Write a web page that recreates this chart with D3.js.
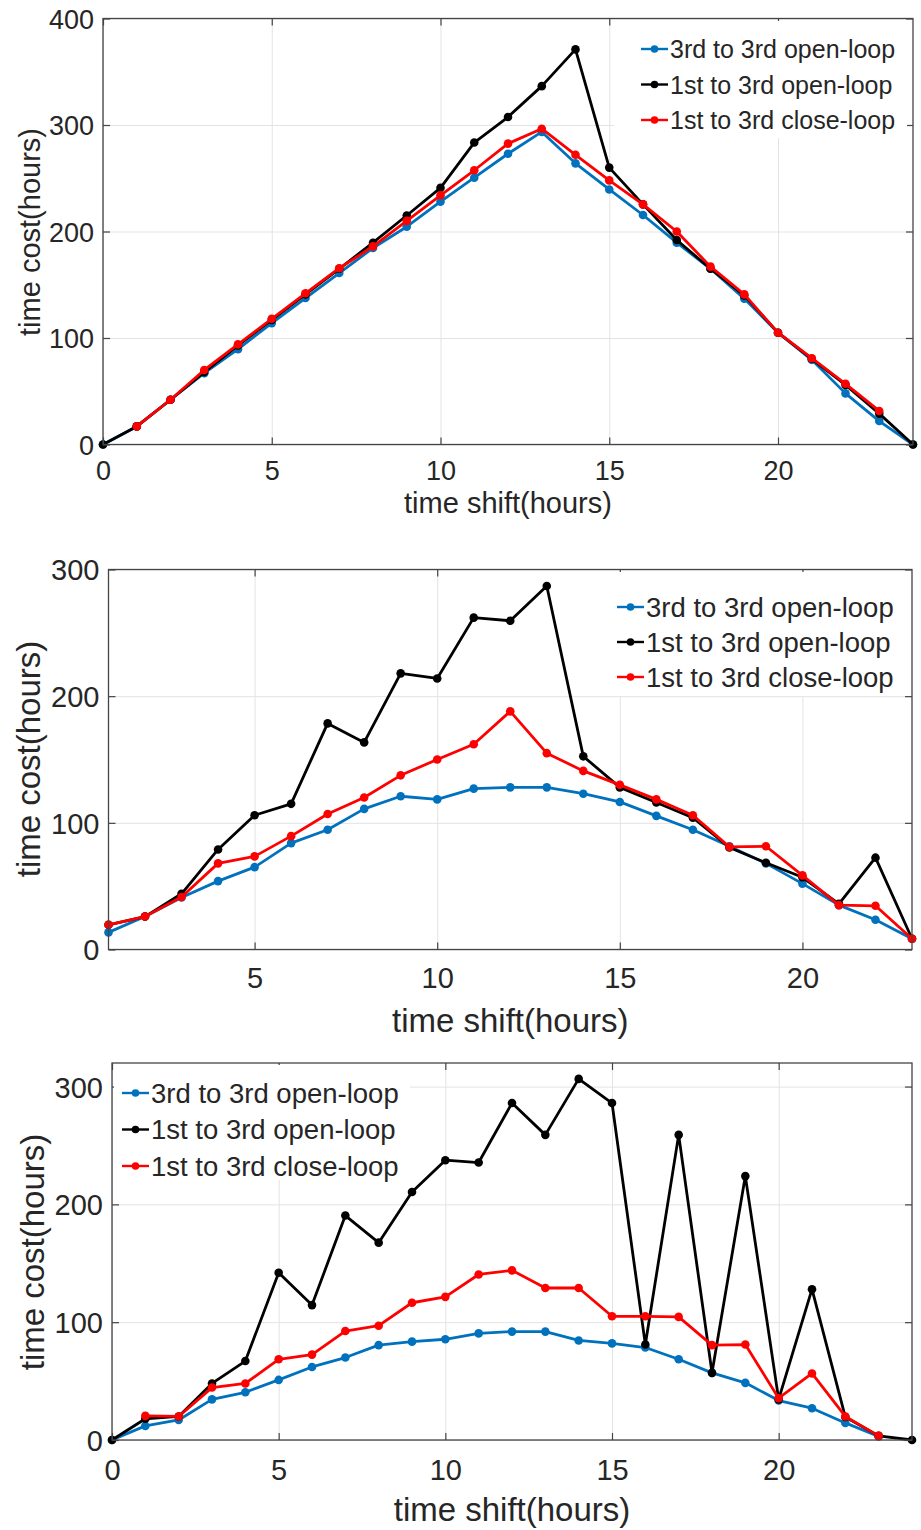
<html>
<head>
  <title>time cost vs time shift</title>
  <script type="text/javascript" src="https://cdn.jsdelivr.net/npm/d3@7"></script>
  <style type="text/css">
    body { margin: 0; background: #fff; }
    text { font-family: "Liberation Sans", Arial, sans-serif; fill: #262626; }
    .grid line { stroke: #e3e3e3; stroke-width: 1; }
    .grid path { display: none; }
    .ax path { display: none; }
    .ax line { stroke: #444; stroke-width: 1.2; }
    .series { fill: none; stroke-width: 2.8; stroke-linejoin: round; }
  </style>
</head>
<body>
<script>
// ---- data ----
const seriesNames = ["3rd to 3rd open-loop", "1st to 3rd open-loop", "1st to 3rd close-loop"];
const seriesColors = ["#0072bd", "#000000", "#ff0000"];

// top panel
const hours1 = [0,1,2,3,4,5,6,7,8,9,10,11,12,13,14,15,16,17,18,19,20,21,22,23,24];
const p1Blue  = [0,17,42,67,89.5,114,137.5,161,184.5,204.5,228,250.5,273,293.5,264,239.5,215.5,189.5,165,137,105,79.5,48,22,0];
const p1Black = [0,17,42,68,93,117,141,165,189.5,215,241,283.5,307.5,336.5,371,260,225.5,192,165,140,105,80.5,56,29,0];
const p1Red   = [null,17,42,70,94,118,142,165.5,186,210,234,257.5,282.5,296.5,272,248,225.5,200,167,141,105,81,57,31.5,null];
const xTicks1 = [0,5,10,15,20];
const yTicks1 = [0,100,200,300,400];

// middle panel
const hours2 = [1,2,3,4,5,6,7,8,9,10,11,12,13,14,15,16,17,18,19,20,21,22,23];
const p2Blue  = [13.5,26,41,54,65,84,94.5,111,121,118.5,127,128,128,123,116.5,105.5,94.5,81.5,68,52,35,23.5,8.5];
const p2Black = [19.5,26,44,79,106,115,178.5,163.5,218,214,262,259.5,287,152.5,128,116,104,80.5,68.5,57,36,72.5,8.5];
const p2Red   = [19.5,26,41.5,68,73.5,89.5,107,120,137.5,150,162,188,155,141,130,118.5,106,81,81.5,58.5,35,34.5,8.5];
const xTicks2 = [5,10,15,20];
const yTicks2 = [0,100,200,300];

// bottom panel
const hours3 = [0,1,2,3,4,5,6,7,8,9,10,11,12,13,14,15,16,17,18,19,20,21,22,23,24];
const p3Blue  = [0,12,17,34.5,40.5,51,62,70,80.5,83.5,85.5,90.5,92,92,84.5,82,78.5,68.5,57,48.5,33.5,27,14.5,3,null];
const p3Black = [0,18,20,48,67,142,114.5,190.5,167.5,210.5,237.5,235.5,286,259,306.5,286,81,259,57,224,34.5,128,19.5,3.5,0];
const p3Red   = [null,20.5,20,44.5,48,68.5,72.5,92.5,97,116.5,121.5,140.5,144,129,129,105,105,104.5,80.5,81,35.5,56.5,20,3.5,null];
const xTicks3 = [0,5,10,15,20];
const yTicks3 = [0,100,200,300];

// ---- layout ----
const w = 921;
const h = 1530;

const panels = [
  { hours: hours1, values: [p1Blue, p1Black, p1Red], xTicks: xTicks1, yTicks: yTicks1,
    xDomain: [0, 24], yDomain: [0, 400],
    left: 103, right: 913, top: 18.5, bottom: 444.5,
    tickFont: 27, labelFont: 29, legendFont: 25,
    xLabelY: 513, yLabelX: 30, yLabelCY: 232, tickLabelY: 480,
    legend: { x: 641, y: 49, step: 35.5, box: [614, 21, 293, 117] } },
  { hours: hours2, values: [p2Blue, p2Black, p2Red], xTicks: xTicks2, yTicks: yTicks2,
    xDomain: [1, 23], yDomain: [0, 300],
    left: 108.5, right: 912, top: 569.5, bottom: 949.5,
    tickFont: 29, labelFont: 33, legendFont: 27.5,
    xLabelY: 1032, yLabelX: 28, yLabelCY: 759, tickLabelY: 988,
    legend: { x: 617, y: 607, step: 35, box: [600, 572, 307, 124] } },
  { hours: hours3, values: [p3Blue, p3Black, p3Red], xTicks: xTicks3, yTicks: yTicks3,
    xDomain: [0, 24], yDomain: [0, 320],
    left: 112, right: 912, top: 1063, bottom: 1440,
    tickFont: 29, labelFont: 33, legendFont: 27.5,
    xLabelY: 1521, yLabelX: 32, yLabelCY: 1252, tickLabelY: 1480,
    legend: { x: 122, y: 1093, step: 36.5, box: [114, 1065, 296, 115] } }
];

const svg = d3.select("body")
  .append("svg")
  .attr("width", w)
  .attr("height", h);

panels.forEach(function(p) {
  const pw = p.right - p.left;
  const ph = p.bottom - p.top;

  const xScale = d3.scaleLinear().domain(p.xDomain).range([p.left, p.right]);
  const yScale = d3.scaleLinear().domain(p.yDomain).range([p.bottom, p.top]);

  // grid
  svg.append("g")
    .attr("class", "grid")
    .attr("transform", "translate(0," + p.bottom + ")")
    .call(d3.axisBottom(xScale).tickValues(p.xTicks).tickSize(-ph).tickFormat(""));
  svg.append("g")
    .attr("class", "grid")
    .attr("transform", "translate(" + p.left + ",0)")
    .call(d3.axisLeft(yScale).tickValues(p.yTicks).tickSize(-pw).tickFormat(""));

  // lines, blue first, red on top
  p.values.forEach(function(vals, i) {
    const pts = p.hours.map(function(x, j) { return { x: x, y: vals[j] }; })
      .filter(function(d) { return d.y !== null; });

    const line = d3.line()
      .x(function(d) { return xScale(d.x); })
      .y(function(d) { return yScale(d.y); });

    svg.append("path")
      .datum(pts)
      .attr("class", "series")
      .attr("stroke", seriesColors[i])
      .attr("d", line);

    svg.append("g").selectAll("circle")
      .data(pts)
      .enter()
      .append("circle")
      .attr("cx", function(d) { return xScale(d.x); })
      .attr("cy", function(d) { return yScale(d.y); })
      .attr("r", 4.3)
      .attr("fill", seriesColors[i]);
  });

  // axes with inward ticks on all four sides
  const xAxis = svg.append("g")
    .attr("class", "ax")
    .attr("transform", "translate(0," + p.bottom + ")")
    .call(d3.axisBottom(xScale).tickValues(p.xTicks).tickSize(-7).tickPadding(0));
  xAxis.selectAll("text")
    .attr("y", p.tickLabelY - p.bottom)
    .attr("dy", 0)
    .style("font-size", p.tickFont + "px");

  svg.append("g")
    .attr("class", "ax")
    .attr("transform", "translate(0," + p.top + ")")
    .call(d3.axisTop(xScale).tickValues(p.xTicks).tickSize(-7).tickFormat(""));

  const yAxis = svg.append("g")
    .attr("class", "ax")
    .attr("transform", "translate(" + p.left + ",0)")
    .call(d3.axisLeft(yScale).tickValues(p.yTicks).tickSize(-7).tickPadding(0));
  yAxis.selectAll("text")
    .attr("x", -9)
    .attr("dy", "0.36em")
    .style("font-size", p.tickFont + "px");

  svg.append("g")
    .attr("class", "ax")
    .attr("transform", "translate(" + p.right + ",0)")
    .call(d3.axisRight(yScale).tickValues(p.yTicks).tickSize(-7).tickFormat(""));

  // box
  svg.append("rect")
    .attr("x", p.left)
    .attr("y", p.top)
    .attr("width", pw)
    .attr("height", ph)
    .attr("fill", "none")
    .attr("stroke", "#444")
    .attr("stroke-width", 1.3);

  // axis labels
  svg.append("text")
    .attr("x", (p.left + p.right) / 2)
    .attr("y", p.xLabelY)
    .attr("text-anchor", "middle")
    .style("font-size", p.labelFont + "px")
    .text("time shift(hours)");

  svg.append("text")
    .attr("transform", "translate(" + p.yLabelX + "," + p.yLabelCY + ") rotate(-90)")
    .attr("dy", "0.35em")
    .attr("text-anchor", "middle")
    .style("font-size", p.labelFont + "px")
    .text("time cost(hours)");

  // legend
  const lg = p.legend;
  svg.append("rect")
    .attr("x", lg.box[0])
    .attr("y", lg.box[1])
    .attr("width", lg.box[2])
    .attr("height", lg.box[3])
    .attr("fill", "#fff");

  seriesNames.forEach(function(name, i) {
    const yy = lg.y + i * lg.step;
    svg.append("line")
      .attr("x1", lg.x)
      .attr("x2", lg.x + 27)
      .attr("y1", yy)
      .attr("y2", yy)
      .attr("stroke", seriesColors[i])
      .attr("stroke-width", 2.4);
    svg.append("circle")
      .attr("cx", lg.x + 13.5)
      .attr("cy", yy)
      .attr("r", 3.8)
      .attr("fill", seriesColors[i]);
    svg.append("text")
      .attr("x", lg.x + 29)
      .attr("y", yy)
      .attr("dy", "0.36em")
      .style("font-size", p.legendFont + "px")
      .text(name);
  });
});
</script>
</body>
</html>
